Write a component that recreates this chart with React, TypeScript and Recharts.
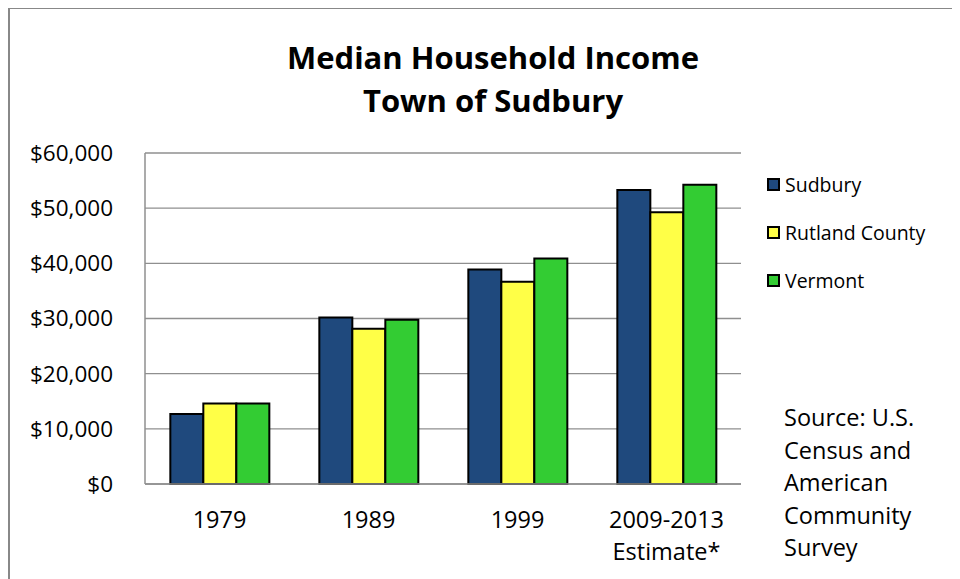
import React from 'react';
import { BarChart, Bar, XAxis, YAxis, CartesianGrid } from 'recharts';

const categories = ['1979', '1989', '1999', '2009-2013\nEstimate*'];
const sudbury = [12700, 30200, 38900, 53300];
const rutland = [14600, 28150, 36650, 49250];
const vermont = [14600, 29792, 40856, 54267];
const yTicks = [0, 10000, 20000, 30000, 40000, 50000, 60000];
const seriesNames = ['Sudbury', 'Rutland County', 'Vermont'];
const seriesColors = ['#1F497D', '#FFFF47', '#33CC33'];
const titleLines = ['Median Household Income', 'Town of Sudbury'];
const sourceLines = ['Source: U.S.', 'Census and', 'American', 'Community', 'Survey'];

const seriesValues = [sudbury, rutland, vermont];
const data = categories.map((c, i) => {
  const row: Record<string, any> = { category: c };
  seriesNames.forEach((n, s) => {
    row[n] = seriesValues[s][i];
  });
  return row;
});

const FONT = "'Open Sans', sans-serif";
const GRID = '#8f8f8f';

const XTick = (props: any) => {
  const { x, y, payload } = props;
  const lines = String(payload.value).split('\n');
  return (
    <text x={x} y={y} textAnchor="middle" fontFamily={FONT} fontSize={23.5} fill="#000">
      {lines.map((l, i) => (
        <tspan key={i} x={x} dy={i === 0 ? 43.5 : 32}>
          {l}
        </tspan>
      ))}
    </text>
  );
};

const fmt = (v: number) => '$' + v.toLocaleString('en-US');

export default function App() {
  return (
    <div style={{ position: 'relative', width: 952, height: 571, background: '#fff' }}>
      <div style={{ position: 'absolute', left: 0, top: -1, width: 952, height: 2, background: '#888' }} />
      <div style={{ position: 'absolute', left: 0, top: -1, width: 2, height: 572, background: '#888' }} />
      <BarChart
        width={952}
        height={571}
        data={data}
        margin={{ top: 145, right: 219, left: 0, bottom: 0 }}
        barCategoryGap="17%"
        barGap={0}
      >
        <CartesianGrid vertical={false} stroke={GRID} strokeWidth={1.3} />
        <XAxis
          dataKey="category"
          height={95}
          tickLine={false}
          tickSize={0}
          tickMargin={0}
          axisLine={{ stroke: GRID, strokeWidth: 1.5 }}
          tick={<XTick />}
          interval={0}
        />
        <YAxis
          width={137}
          domain={[0, 60000]}
          ticks={yTicks}
          tickFormatter={fmt}
          tickLine={false}
          tickSize={0}
          tickMargin={32}
          axisLine={{ stroke: GRID, strokeWidth: 1.5 }}
          tick={{ fontFamily: FONT, fontSize: 22.5, fill: '#000' }}
          interval={0}
        />
        {seriesNames.map((n, i) => (
          <Bar key={n} dataKey={n} fill={seriesColors[i]} stroke="#000" strokeWidth={2} isAnimationActive={false} />
        ))}
      </BarChart>
      <svg
        width={952}
        height={571}
        style={{ position: 'absolute', left: 0, top: 0, pointerEvents: 'none' }}
      >
        {titleLines.map((t, i) => (
          <text
            key={t}
            x={485}
            y={60.5 + i * 43}
            textAnchor="middle"
            fontFamily={FONT}
            fontWeight="bold"
            fontSize={31}
            fill="#000"
          >
            {t}
          </text>
        ))}
        {seriesNames.map((n, i) => (
          <g key={n}>
            <rect x={760} y={177 + i * 48 - 6} width={11} height={11} fill={seriesColors[i]} stroke="#000" strokeWidth={2} />
            <text x={777} y={177 + i * 48 + 7} fontFamily={FONT} fontSize={19.5} fill="#000">
              {n}
            </text>
          </g>
        ))}
        {sourceLines.map((s, i) => (
          <text key={s} x={776} y={418 + i * 32.5} fontFamily={FONT} fontSize={23.5} fill="#000">
            {s}
          </text>
        ))}
      </svg>
    </div>
  );
}
